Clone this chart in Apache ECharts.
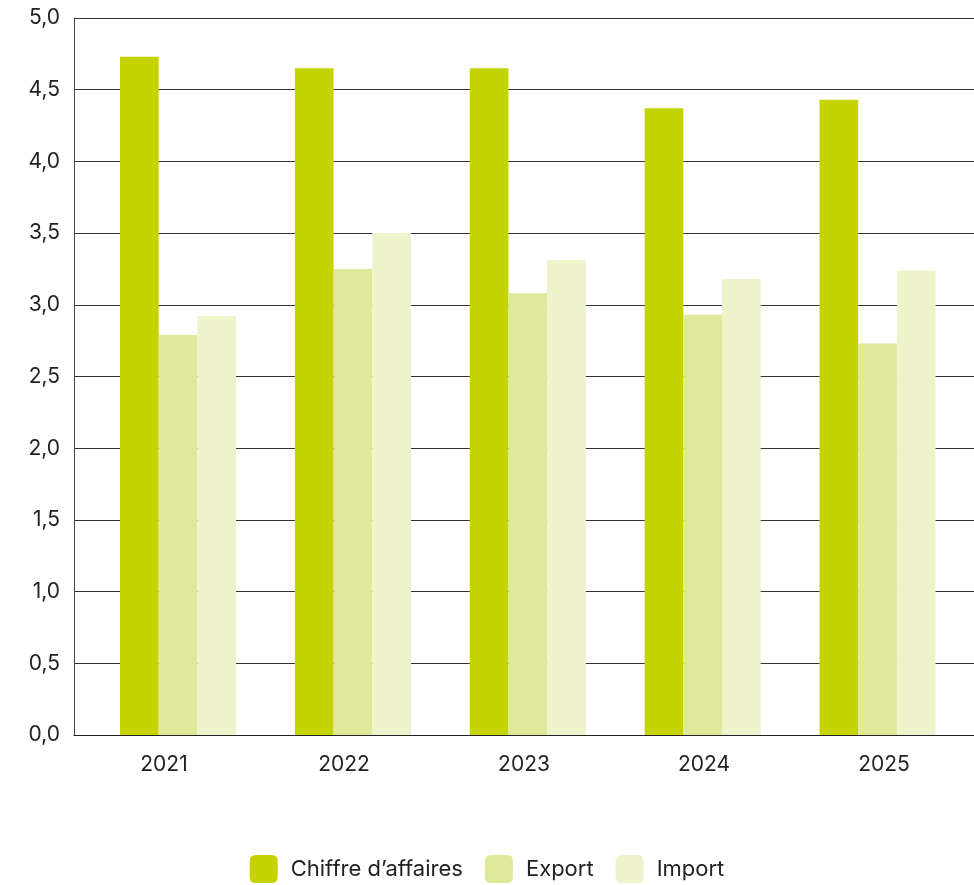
<!DOCTYPE html>
<html>
<head>
<meta charset="utf-8">
<script src="https://cdn.jsdelivr.net/npm/echarts@6/dist/echarts.min.js"></script>
<style>html,body{margin:0;padding:0;background:#fff}#c{width:974px;height:885px}</style>
</head>
<body>
<div id="c"></div>
<script>
const categories = ['2021', '2022', '2023', '2024', '2025'];
const seriesNames = ['Chiffre d’affaires', 'Export', 'Import'];
const chiffre = [4.73, 4.65, 4.65, 4.37, 4.43];
const exportVals = [2.79, 3.25, 3.08, 2.93, 2.73];
const importVals = [2.92, 3.50, 3.31, 3.18, 3.24];
const colors = ['#c5d400', '#e0e899', '#eef3cc'];

const font = 'Inter, Lato, "Noto Sans", sans-serif';
const chart = echarts.init(document.getElementById('c'), null, {renderer: 'canvas'});
const values = [chiffre, exportVals, importVals];
chart.setOption({
  animation: false,
  color: colors,
  grid: [
    {left: 74, right: -6, top: 18, bottom: 150},
    {left: 90.6, right: 9, top: 18, bottom: 150}
  ],
  legend: {
    data: seriesNames,
    top: 850,
    left: 'center',
    itemWidth: 28,
    itemHeight: 28,
    itemGap: 22,
    icon: 'path://M6,0 L22,0 Q28,0 28,6 L28,22 Q28,28 22,28 L6,28 Q0,28 0,22 L0,6 Q0,0 6,0 Z',
    textStyle: {fontFamily: font, fontSize: 22, color: '#222', padding: [0, 0, 0, 8]}
  },
  xAxis: [
    {
      type: 'category', gridIndex: 0, data: categories,
      axisTick: {show: false},
      axisLine: {lineStyle: {color: '#222', width: 1}},
      axisLabel: {fontFamily: font, fontSize: 21, color: '#222', margin: 19}
    },
    {
      type: 'category', gridIndex: 1, data: categories, show: false
    }
  ],
  yAxis: [
    {
      type: 'value', gridIndex: 0, min: 0, max: 5, interval: 0.5,
      axisLine: {show: true, lineStyle: {color: '#444', width: 1}},
      axisTick: {show: false},
      splitLine: {lineStyle: {color: '#333', width: 1}},
      axisLabel: {
        fontFamily: font, fontSize: 21, color: '#222', margin: 14,
        formatter: v => v.toFixed(1).replace('.', ',')
      }
    },
    {type: 'value', gridIndex: 1, min: 0, max: 5, show: false}
  ],
  series: seriesNames.map((n, i) => ({
    name: n, type: 'bar', xAxisIndex: 1, yAxisIndex: 1,
    data: values[i], barWidth: 38.7, barGap: '0%',
    itemStyle: {color: colors[i]}
  }))
});
</script>
</body>
</html>
